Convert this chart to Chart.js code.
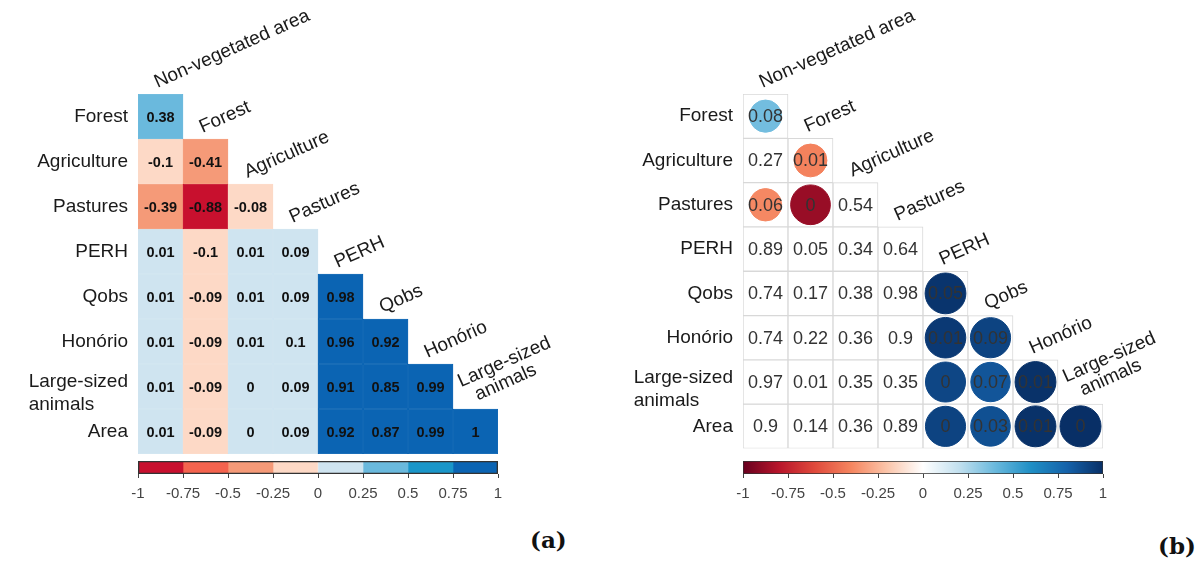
<!DOCTYPE html>
<html>
<head>
<meta charset="utf-8">
<script src="https://cdn.jsdelivr.net/npm/chart.js@4.4.0/dist/chart.umd.min.js"></script>
<style>
  body { margin: 0; background: #fff; width: 1199px; height: 563px; position: relative; overflow: hidden; }
  .box { position: absolute; }
  .tag { position: absolute; font: bold 23px "DejaVu Serif", serif; color: #111; }
</style>
</head>
<body>
<div class="box" style="left:0;top:0;width:600px;height:470px"><canvas id="matA"></canvas></div>
<div class="box" style="left:0;top:455px;width:600px;height:50px"><canvas id="barA"></canvas></div>
<div class="box" style="left:600px;top:0;width:599px;height:470px"><canvas id="matB"></canvas></div>
<div class="box" style="left:600px;top:455px;width:599px;height:50px"><canvas id="barB"></canvas></div>
<div class="tag" style="left:530px;top:526px">(a)</div>
<div class="tag" style="left:1158px;top:532px">(b)</div>
<script>
// row / column names of the lower-triangle matrices
const rowLabels = ['Forest', 'Agriculture', 'Pastures', 'PERH', 'Qobs', 'Honório', ['Large-sized', 'animals'], 'Area'];
const colLabels = ['Non-vegetated area', 'Forest', 'Agriculture', 'Pastures', 'PERH', 'Qobs', 'Honório', ['Large-sized', 'animals']];

// (a) correlation coefficients
const corrA = [
    [0.38],
    [-0.1, -0.41],
    [-0.39, -0.88, -0.08],
    [0.01, -0.1, 0.01, 0.09],
    [0.01, -0.09, 0.01, 0.09, 0.98],
    [0.01, -0.09, 0.01, 0.1, 0.96, 0.92],
    [0.01, -0.09, 0, 0.09, 0.91, 0.85, 0.99],
    [0.01, -0.09, 0, 0.09, 0.92, 0.87, 0.99, 1]
];

// (b) p-values printed in the cells
const pValB = [
    [0.08],
    [0.27, 0.01],
    [0.06, 0, 0.54],
    [0.89, 0.05, 0.34, 0.64],
    [0.74, 0.17, 0.38, 0.98, 0.05],
    [0.74, 0.22, 0.36, 0.9, 0.01, 0.09],
    [0.97, 0.01, 0.35, 0.35, 0, 0.07, 0.01],
    [0.9, 0.14, 0.36, 0.89, 0, 0.03, 0.01, 0]
];

// (b) correlation shown as a circle (null = no circle)
const circleB = [
    [0.38],
    [null, -0.41],
    [-0.39, -0.88, null],
    [null, null, null, null],
    [null, null, null, null, 0.98],
    [null, null, null, null, 0.96, 0.92],
    [null, null, null, null, 0.91, 0.85, 0.99],
    [null, null, null, null, 0.92, 0.87, 0.99, 1]
];

const cbTicks = [-1, -0.75, -0.5, -0.25, 0, 0.25, 0.5, 0.75, 1];

const binColors = ['#c8102e', '#f4634e', '#f59a78', '#fdd9c6', '#cfe4f0', '#6ab9dd', '#1a96c9', '#0b64b3'];
const rdbu = ['#67001f', '#b8152b', '#e04a3c', '#f5855f', '#fbc5aa', '#ffffff', '#c2e0ef', '#6ab9dd', '#1f8fc5', '#1562aa', '#082f66'];
const labelFont = '19px "Liberation Sans", Arial, sans-serif';
const colNames = colLabels.map(c => Array.isArray(c) ? c.join(' ') : c);

function binColor(v) {
    return binColors[Math.max(0, Math.min(7, Math.floor((v + 1) / 0.25)))];
}

function hexRgb(h) {
    return [1, 3, 5].map(k => parseInt(h.substr(k, 2), 16));
}

function rdbuColor(v) {
    const t = Math.max(0, Math.min(10, (v + 1) / 2 * 10));
    const i = Math.min(9, Math.floor(t));
    const f = t - i;
    const a = hexRgb(rdbu[i]), b = hexRgb(rdbu[i + 1]);
    const c = a.map((x, k) => Math.round(x + (b[k] - x) * f));
    return `rgb(${c[0]},${c[1]},${c[2]})`;
}

// one floating bar per cell: row i spans [i, i+1] on the y scale
function cellData(i) {
    return colLabels.map((c, j) => j <= i ? [i, i + 1] : null);
}

function labelsPlugin() {
    return {
        id: 'cornerLabels',
        afterDraw(chart) {
            const ctx = chart.ctx, xs = chart.scales.x, ys = chart.scales.y, area = chart.chartArea;
            ctx.save();
            ctx.fillStyle = '#1a1a1a';
            ctx.font = labelFont;
            ctx.textBaseline = 'middle';
            rowLabels.forEach((lab, i) => {
                const y = ys.getPixelForValue(i + 0.5);
                const x = area.left - 10;
                if (Array.isArray(lab)) {
                    const w = Math.max(...lab.map(s => ctx.measureText(s).width));
                    ctx.textAlign = 'left';
                    lab.forEach((s, k) => ctx.fillText(s, x - w, y + 7 + (k - 0.5) * 23));
                } else {
                    ctx.textAlign = 'right';
                    ctx.fillText(lab, x, y);
                }
            });
            ctx.textBaseline = 'alphabetic';
            ctx.textAlign = 'left';
            colLabels.forEach((lab, j) => {
                const x = xs.getPixelForValue(j) - 3;
                const y = ys.getPixelForValue(j) - 6;
                ctx.save();
                ctx.translate(x, y);
                ctx.rotate(-24 * Math.PI / 180);
                if (Array.isArray(lab)) {
                    ctx.fillText(lab[0], -4, -19);
                    ctx.fillText(lab[1], 6, 0);
                } else {
                    ctx.fillText(lab, 0, 0);
                }
                ctx.restore();
            });
            ctx.restore();
        }
    };
}

function valuesPlugin(values, font, color) {
    return {
        id: 'cellValues',
        afterDatasetsDraw(chart) {
            const ctx = chart.ctx;
            ctx.save();
            ctx.font = font;
            ctx.fillStyle = color;
            ctx.textAlign = 'center';
            ctx.textBaseline = 'middle';
            chart.data.datasets.forEach((ds, d) => {
                if (ds.row === undefined) return;
                const meta = chart.getDatasetMeta(d);
                values[ds.row].forEach((v, j) => {
                    const p = meta.data[j].getCenterPoint();
                    ctx.fillText(String(v), p.x, p.y + 1);
                });
            });
            ctx.restore();
        }
    };
}

function matrixOptions(padL, padR) {
    return {
        responsive: true,
        maintainAspectRatio: false,
        animation: false,
        layout: { padding: { left: padL, right: padR, top: 94, bottom: 16 } },
        plugins: { legend: { display: false }, tooltip: { enabled: false } },
        scales: {
            x: { type: 'category', display: false },
            y: { type: 'linear', display: false, min: 0, max: 8, reverse: true }
        }
    };
}

// (a) heat map
new Chart(document.getElementById('matA'), {
    type: 'bar',
    data: {
        labels: colNames,
        datasets: rowLabels.map((r, i) => ({
            row: i,
            data: cellData(i),
            backgroundColor: ctx => binColor(corrA[i][ctx.dataIndex] ?? 0),
            borderColor: ctx => binColor(corrA[i][ctx.dataIndex] ?? 0),
            borderWidth: 0.5,
            borderSkipped: false,
            grouped: false,
            barPercentage: 1,
            categoryPercentage: 1
        }))
    },
    options: matrixOptions(138, 102),
    plugins: [labelsPlugin(), valuesPlugin(corrA, 'bold 14.5px "Liberation Sans", Arial, sans-serif', '#111')]
});

// (b) p-value grid with circles
const bubbles = [];
circleB.forEach((row, i) => row.forEach((v, j) => {
    if (v !== null) bubbles.push({ x: colNames[j], y: i + 0.5, v: v });
}));

new Chart(document.getElementById('matB'), {
    type: 'bar',
    data: {
        labels: colNames,
        datasets: [{
            type: 'bubble',
            order: -1,
            data: bubbles,
            radius: ctx => 20.5 * Math.pow(Math.abs(ctx.raw.v), 0.25),
            backgroundColor: ctx => rdbuColor(ctx.raw.v),
            borderColor: ctx => rdbuColor(ctx.raw.v),
            borderWidth: 1
        }].concat(rowLabels.map((r, i) => ({
            row: i,
            data: cellData(i),
            backgroundColor: '#ffffff',
            borderColor: '#d8d8d8',
            borderWidth: 1,
            borderSkipped: false,
            grouped: false,
            barPercentage: 1,
            categoryPercentage: 1
        })))
    },
    options: matrixOptions(143, 96),
    plugins: [labelsPlugin(), valuesPlugin(pValB, '18px "Liberation Sans", Arial, sans-serif', '#333')]
});

function colorbar(id, padL, padR, sets) {
    return new Chart(document.getElementById(id), {
        type: 'bar',
        data: { labels: ['scale'], datasets: sets },
        options: {
            indexAxis: 'y',
            responsive: true,
            maintainAspectRatio: false,
            animation: false,
            layout: { padding: { left: padL, right: padR, top: 6, bottom: 0 } },
            plugins: { legend: { display: false }, tooltip: { enabled: false } },
            scales: {
                x: {
                    type: 'linear', min: -1, max: 1,
                    afterBuildTicks: s => { s.ticks = cbTicks.map(v => ({ value: v })); },
                    afterFit: s => { s.height = 31; },
                    grid: { drawOnChartArea: false, tickLength: 4, color: '#444' },
                    border: { display: false },
                    ticks: { color: '#444', padding: 7, maxRotation: 0, autoSkip: false,
                             callback: v => String(v),
                             font: { size: 15, family: '"Liberation Sans", Arial, sans-serif' } }
                },
                y: { display: false }
            }
        }
    });
}

const barStyle = { grouped: false, barPercentage: 1, categoryPercentage: 1, borderWidth: 0 };

colorbar('barA', 138, 102, binColors.map((c, k) => Object.assign({
    data: [[cbTicks[k], cbTicks[k + 1]]], backgroundColor: c
}, barStyle)).concat([Object.assign({}, barStyle, {
    data: [[-1, 1]], backgroundColor: 'rgba(0,0,0,0)', borderColor: '#333', borderWidth: 1, borderSkipped: false, order: -1
})]));

colorbar('barB', 143, 96, [Object.assign({}, barStyle, {
    data: [[-1, 1]],
    backgroundColor: ctx => {
        const a = ctx.chart.chartArea;
        if (!a) return '#fff';
        const g = ctx.chart.ctx.createLinearGradient(a.left, 0, a.right, 0);
        rdbu.forEach((col, k) => g.addColorStop(k / 10, col));
        return g;
    },
    borderColor: '#333', borderWidth: 1, borderSkipped: false
})]);
</script>
</body>
</html>
